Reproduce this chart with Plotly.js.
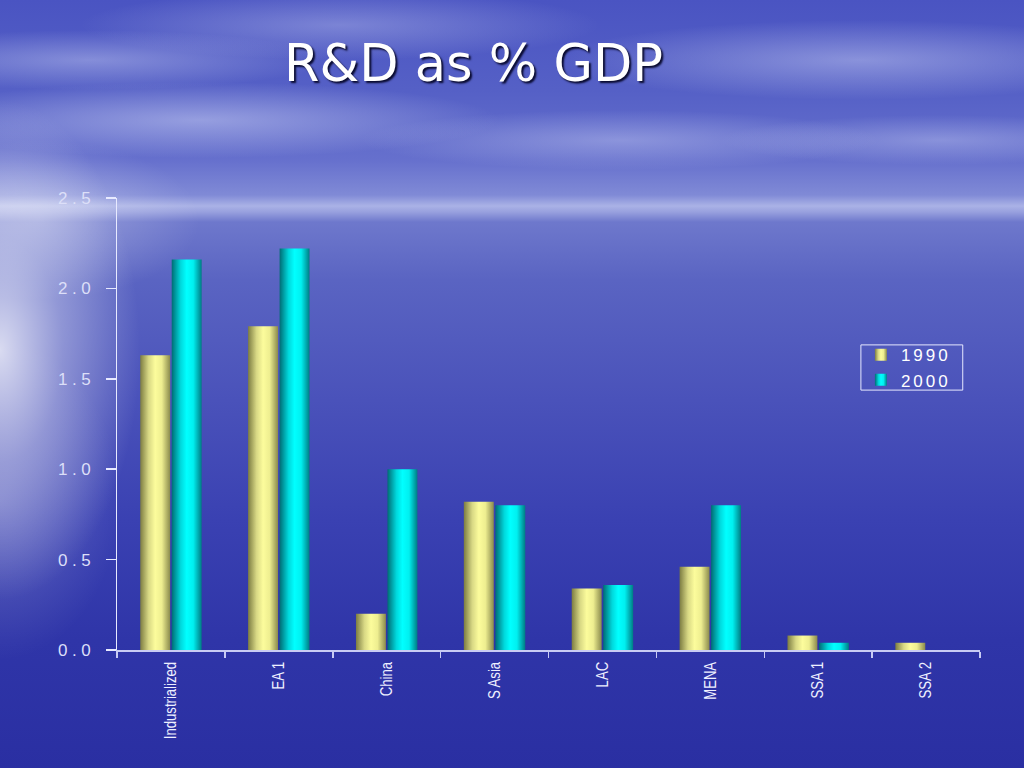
<!DOCTYPE html>
<html>
<head>
<meta charset="utf-8">
<script src="https://cdn.plot.ly/plotly-3.0.1.min.js"></script>
<style>
  html, body { margin: 0; padding: 0; width: 1024px; height: 768px; overflow: hidden; }
  #bg {
    position: absolute; left: 0; top: 0; width: 1024px; height: 768px;
    background:
      radial-gradient(ellipse 140px 250px at 0px 350px, rgba(255,255,255,0.78), rgba(255,255,255,0.35) 45%, rgba(255,255,255,0) 100%),
      radial-gradient(ellipse 120px 160px at 0px 500px, rgba(255,255,255,0.22), rgba(255,255,255,0) 100%),
      radial-gradient(ellipse 160px 80px at 40px 220px, rgba(255,255,255,0.30), rgba(255,255,255,0) 100%),
      radial-gradient(ellipse 300px 38px at 200px 120px, rgba(230,235,255,0.42), rgba(230,235,255,0) 100%),
      radial-gradient(ellipse 240px 30px at 90px 60px, rgba(230,235,255,0.35), rgba(230,235,255,0) 100%),
      radial-gradient(ellipse 260px 35px at 340px 25px, rgba(230,235,255,0.30), rgba(230,235,255,0) 100%),
      radial-gradient(ellipse 300px 40px at 860px 60px, rgba(230,235,255,0.38), rgba(230,235,255,0) 100%),
      radial-gradient(ellipse 260px 30px at 620px 140px, rgba(230,235,255,0.32), rgba(230,235,255,0) 100%),
      radial-gradient(ellipse 220px 25px at 940px 140px, rgba(230,235,255,0.30), rgba(230,235,255,0) 100%),
      linear-gradient(to bottom,
        #4a54c2 0px, #5560c6 90px, #6670cd 160px, #808ad6 195px, #aab2e6 206px,
        #98a0de 212px, #6e78cc 222px, #5a64c2 280px, #4a52ba 400px,
        #3a41b2 520px, #2f35a8 640px, #2a2fa2 768px);
  }
  #chart { position: absolute; left: 0; top: 0; width: 1024px; height: 768px; }
  .ytick text { letter-spacing: 4.5px; }
  .legendtext { letter-spacing: 3px; }
</style>
</head>
<body>
<div id="bg"></div>
<div id="chart"></div>
<script>
const categories = ["Industrialized", "EA 1", "China", "S Asia", "LAC", "MENA", "SSA 1", "SSA 2"];
const values1990 = [1.63, 1.79, 0.20, 0.82, 0.34, 0.46, 0.08, 0.04];
const values2000 = [2.16, 2.22, 1.00, 0.80, 0.36, 0.80, 0.04, null];
const seriesNames = ["1990", "2000"];
const yTickVals = [0, 0.5, 1.0, 1.5, 2.0, 2.5];
const yTickText = ["0.0", "0.5", "1.0", "1.5", "2.0", "2.5"];

const traces = [
  { type: "bar", name: seriesNames[0], x: categories, y: values1990,
    marker: { color: "#f4f49a", line: { width: 0 } } },
  { type: "bar", name: seriesNames[1], x: categories, y: values2000,
    marker: { color: "#00f4f4", line: { width: 0 } } }
];

const layout = {
  width: 1024, height: 768,
  margin: { l: 117, r: 44, t: 198, b: 118, pad: 0 },
  paper_bgcolor: "rgba(0,0,0,0)",
  plot_bgcolor: "rgba(0,0,0,0)",
  barmode: "group",
  bargap: 0.416,
  bargroupgap: 0.05,
  showlegend: true,
  title: {
    text: "R&D as % GDP",
    xref: "container", x: 0.4624, xanchor: "center",
    yref: "container", y: 0.918, yanchor: "middle",
    font: { family: "DejaVu Sans, sans-serif", size: 51, color: "#ffffff",
            shadow: "2px 2px 2px rgba(0,0,30,0.9)" }
  },
  xaxis: {
    type: "category",
    showgrid: false, zeroline: false,
    showline: true, linecolor: "#c8ccf4", linewidth: 1.5,
    ticks: "outside", tickson: "boundaries", ticklen: 6, tickcolor: "#c8ccf4", tickwidth: 1.5,
    tickangle: -90, ticklabelstandoff: 4,
    tickfont: { family: "Liberation Sans, Arial, sans-serif", size: 16, color: "#eef0ff" },
    fixedrange: true
  },
  yaxis: {
    range: [0, 2.5],
    tickvals: yTickVals, ticktext: yTickText,
    showgrid: false, zeroline: false,
    showline: true, linecolor: "#e8eaff", linewidth: 1.5,
    ticks: "outside", ticklen: 10, tickcolor: "#e8eaff", tickwidth: 1.5,
    ticklabelstandoff: 7,
    tickfont: { family: "Liberation Sans, Arial, sans-serif", size: 17, color: "#dcdff8" },
    fixedrange: true
  },
  legend: {
    x: 0.862, xanchor: "left", y: 0.692, yanchor: "top",
    bgcolor: "rgba(0,0,0,0)", borderwidth: 0,
    font: { family: "Liberation Sans, Arial, sans-serif", size: 17, color: "#ffffff" },
    itemwidth: 30, tracegroupgap: 0
  },
  shapes: [{
    type: "rect", xref: "paper", yref: "paper",
    x0: 0.862, x1: 0.98, y0: 0.575, y1: 0.675,
    line: { color: "#e6e8ff", width: 1 }, fillcolor: "rgba(0,0,0,0)"
  }]
};

function addGradients(gd) {
  const svgNS = "http://www.w3.org/2000/svg";
  const svg = gd.querySelector("svg.main-svg");
  let defs = svg.querySelector("defs");
  if (!defs) { defs = document.createElementNS(svgNS, "defs"); svg.insertBefore(defs, svg.firstChild); }
  function grad(id, stops) {
    const g = document.createElementNS(svgNS, "linearGradient");
    g.setAttribute("id", id);
    g.setAttribute("x1", "0"); g.setAttribute("y1", "0");
    g.setAttribute("x2", "1"); g.setAttribute("y2", "0");
    stops.forEach(s => {
      const st = document.createElementNS(svgNS, "stop");
      st.setAttribute("offset", s[0]);
      st.setAttribute("stop-color", s[1]);
      g.appendChild(st);
    });
    defs.appendChild(g);
  }
  grad("gYellow", [["0", "#7c7c42"], ["0.28", "#d8d884"], ["0.5", "#fcfc9c"], ["0.72", "#eeee90"], ["1", "#8a8a4c"]]);
  grad("gCyan", [["0", "#006c74"], ["0.3", "#00d8dc"], ["0.5", "#00ffff"], ["0.72", "#00f0f0"], ["1", "#007c84"]]);
  const ids = ["gYellow", "gCyan"];
  gd.querySelectorAll(".barlayer .trace.bars").forEach((t, i) => {
    t.querySelectorAll("path").forEach(p => { p.style.fill = "url(#" + ids[i] + ")"; });
  });
  gd.querySelectorAll(".legend .traces").forEach((t, i) => {
    t.querySelectorAll(".legendpoints path").forEach(p => { p.style.fill = "url(#" + ids[i] + ")"; });
  });
  // condensed look for category labels
  gd.querySelectorAll(".xtick text").forEach(t => {
    const len = t.getComputedTextLength();
    t.setAttribute("textLength", (len * 0.82).toFixed(1));
    t.setAttribute("lengthAdjust", "spacingAndGlyphs");
  });
}

Plotly.newPlot("chart", traces, layout, { displayModeBar: false, staticPlot: true })
  .then(gd => addGradients(gd));
</script>
</body>
</html>
